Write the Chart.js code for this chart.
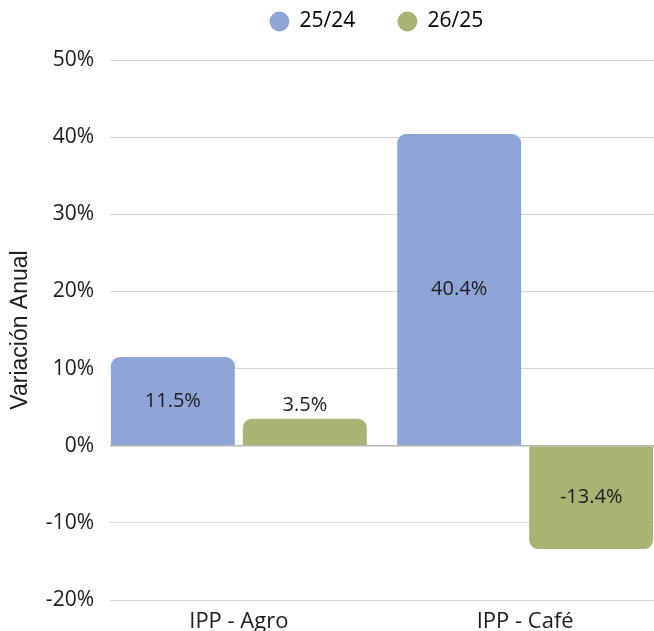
<!DOCTYPE html>
<html>
<head>
<meta charset="utf-8">
<script src="https://cdn.jsdelivr.net/npm/chart.js@4.4.1/dist/chart.umd.min.js"></script>
<style>
  html, body { margin: 0; padding: 0; background: #ffffff; overflow: hidden; }
  #wrap { position: relative; width: 654px; height: 660px; }
</style>
</head>
<body>
<div id="wrap"><canvas id="c" width="654" height="660"></canvas></div>
<script>
const categories = ['IPP - Agro', 'IPP - Café'];
const seriesNames = ['25/24', '26/25'];
const values2524 = [11.5, 40.4];
const values2625 = [3.5, -13.4];
const yTicks = [-20, -10, 0, 10, 20, 30, 40, 50];

const colors = ['#8FA5D7', '#A8B474'];
const FONT = "'Open Sans', sans-serif";

const toPoints = vals => vals.map((v, i) => ({ x: i, y: v }));

const dataLabelPlugin = {
  id: 'barValueLabels',
  afterDatasetsDraw(chart) {
    const ctx = chart.ctx;
    ctx.save();
    ctx.font = '20px ' + FONT;
    ctx.fillStyle = '#1c1c1c';
    ctx.textAlign = 'center';
    ctx.textBaseline = 'middle';
    chart.data.datasets.forEach((ds, di) => {
      const meta = chart.getDatasetMeta(di);
      meta.data.forEach((bar, i) => {
        const v = ds.data[i].y;
        const h = Math.abs(bar.base - bar.y);
        const txt = v.toFixed(1) + '%';
        let y;
        if (h > 40) {
          y = (bar.y + bar.base) / 2;
        } else {
          y = v >= 0 ? bar.y - 13 : bar.y + 13;
        }
        ctx.fillText(txt, bar.x, y);
      });
    });
    ctx.restore();
  }
};

const legendText = ['25/24' + '      ', '26/25' + '  '];

new Chart(document.getElementById('c'), {
  type: 'bar',
  data: {
    datasets: [
      { label: seriesNames[0], data: toPoints(values2524), backgroundColor: colors[0], borderRadius: 9 },
      { label: seriesNames[1], data: toPoints(values2625), backgroundColor: colors[1], borderRadius: 9 }
    ]
  },
  options: {
    responsive: false,
    animation: false,
    devicePixelRatio: 1,
    categoryPercentage: 0.922,
    barPercentage: 0.939,
    layout: { padding: { top: 1, left: 0, right: 0, bottom: 0 } },
    plugins: {
      legend: {
        position: 'top',
        fullSize: false,
        labels: {
          usePointStyle: true,
          pointStyle: 'circle',
          boxWidth: 19,
          boxHeight: 14,
          padding: 10,
          color: '#1c1c1c',
          font: { family: FONT, size: 21 },
          generateLabels(chart) {
            return chart.data.datasets.map((ds, i) => ({
              text: legendText[i],
              fillStyle: ds.backgroundColor,
              strokeStyle: ds.backgroundColor,
              lineWidth: 0,
              pointStyle: 'circle',
              hidden: false,
              datasetIndex: i
            }));
          }
        }
      },
      title: { display: true, text: '', weight: 0, padding: 0, font: { size: 15, lineHeight: 1.2 } },
      tooltip: { enabled: false }
    },
    scales: {
      x: {
        type: 'linear',
        offset: false,
        min: -0.45,
        max: 1.45,
        grid: { display: false, drawTicks: false, offset: false },
        border: { display: false },
        afterBuildTicks(scale) { scale.ticks = categories.map((c, i) => ({ value: i })); },
        afterFit(scale) { scale.height = 60; },
        ticks: {
          padding: 9,
          color: '#1c1c1c',
          font: { family: FONT, size: 22 },
          callback: (v) => categories[v]
        }
      },
      y: {
        min: -20,
        max: 50,
        afterBuildTicks(scale) { scale.ticks = yTicks.map(v => ({ value: v })); },
        afterFit(scale) { scale.width = 110; },
        grid: {
          drawTicks: false,
          color: (c) => (c.tick && c.tick.value === 0 ? '#b5b5b5' : '#d6d6d6'),
          lineWidth: (c) => (c.tick && c.tick.value === 0 ? 1.5 : 1)
        },
        border: { display: false },
        ticks: {
          padding: 16,
          color: '#1c1c1c',
          font: { family: FONT, size: 21 },
          callback: (v) => v + '%'
        },
        title: {
          display: true,
          text: 'Variación Anual',
          color: '#1c1c1c',
          padding: { top: 7, bottom: 0 },
          font: { family: "'Liberation Sans', Arial, sans-serif", size: 23 }
        }
      }
    }
  },
  plugins: [dataLabelPlugin]
});
</script>
</body>
</html>
